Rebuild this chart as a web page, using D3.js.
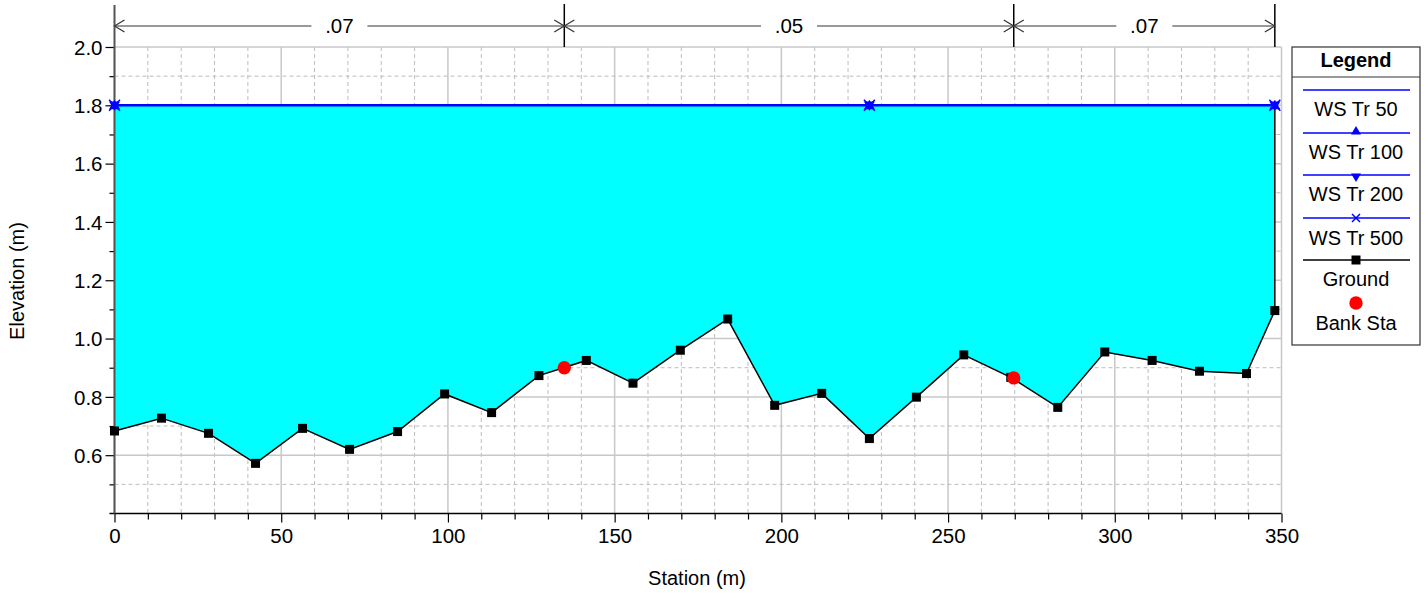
<!DOCTYPE html>
<html><head><meta charset="utf-8">
<script src="https://cdn.jsdelivr.net/npm/d3@7/dist/d3.min.js"></script>
<style>body{margin:0;background:#fff}svg{display:block}text{font-family:"Liberation Sans",Arial,sans-serif}</style>
</head><body><svg id="c" width="1428" height="593"></svg>
<script>
const groundStation = [0,14.1,28.2,42.3,56.4,70.5,84.9,99.0,113.1,127.3,141.5,155.5,169.7,183.9,198.0,212.1,226.4,240.5,254.7,268.8,282.9,297.0,311.2,325.4,339.5,348.0];
const groundElev = [0.683,0.727,0.675,0.572,0.692,0.620,0.681,0.810,0.746,0.873,0.925,0.847,0.960,1.067,0.771,0.812,0.657,0.799,0.944,0.867,0.764,0.954,0.925,0.888,0.880,1.096];
const bankStation = [134.9,269.7];
const bankElev = [0.900,0.865];
const wsNames = ["WS Tr 50","WS Tr 100","WS Tr 200","WS Tr 500"];
const wsElev = [1.8,1.8,1.8,1.8];
const wsMarkerStation = [0,226.4,348.0];
const nValues = [".07",".05",".07"];
const nBreaks = [0,134.9,269.7,348.0];
const xTicks = [0,50,100,150,200,250,300,350];
const yTicks = [0.6,0.8,1.0,1.2,1.4,1.6,1.8,2.0];

const svg = d3.select("#c");
const x = d3.scaleLinear().domain([0,350]).range([114.5,1281.5]);
const y = d3.scaleLinear().domain([0.4,2.0]).range([513.5,47]);

// grid
const g = svg.append("g");
d3.range(0,351,10).forEach(v=>{
  const major = v%50===0;
  g.append("line").attr("x1",x(v)).attr("x2",x(v)).attr("y1",y(2.0)).attr("y2",y(0.4))
   .attr("stroke",major?"#c8c8c8":"#bdbdbd").attr("stroke-width",major?1.5:1)
   .attr("stroke-dasharray",major?null:"4,3");
});
d3.range(5,21).map(d=>d/10).forEach(v=>{
  const major = Math.round(v*10)%2===0;
  g.append("line").attr("x1",x(0)).attr("x2",x(350)).attr("y1",y(v)).attr("y2",y(v))
   .attr("stroke",major?"#c8c8c8":"#bdbdbd").attr("stroke-width",major?1.5:1)
   .attr("stroke-dasharray",major?null:"4,3");
});

// water fill
const ground = groundStation.map((s,i)=>[s,groundElev[i]]);
const ws = wsElev[0];
const last = groundStation[groundStation.length-1];
const poly = [[0,ws],[last,ws]].concat(ground.slice().reverse());
svg.append("path").attr("d", d3.line().x(d=>x(d[0])).y(d=>y(d[1]))(poly)+"Z")
  .attr("fill","#00ffff").attr("stroke","none");
svg.append("line").attr("x1",x(last)).attr("x2",x(last)).attr("y1",y(ws)).attr("y2",y(groundElev[groundElev.length-1]))
  .attr("stroke","#000").attr("stroke-width",1.5);

// axes
const xAxis = d3.axisBottom(x).tickValues(d3.range(0,351,10)).tickSize(6).tickFormat(d=>xTicks.includes(d)?d:"");
const xa = svg.append("g").attr("transform",`translate(0,${y(0.4)})`).call(xAxis);
xa.select(".domain").attr("stroke","#000").attr("stroke-width",1.5).attr("d",`M${x(0)-5},0H${x(350)}`);
xa.selectAll(".tick line").attr("stroke","#000").attr("stroke-width",1.2).attr("y2",d=>d%50===0?9:6);
xa.selectAll(".tick text").attr("font-size",20.5).attr("fill","#000").attr("dy","0.75em").attr("y",14);

const yAxis = d3.axisLeft(y).tickValues(d3.range(4,21).map(d=>d/10)).tickSize(5).tickFormat(d=>yTicks.some(t=>Math.abs(t-d)<1e-9)?d3.format(".1f")(d):"");
const ya = svg.append("g").attr("transform",`translate(${x(0)},0)`).call(yAxis);
ya.select(".domain").remove();
ya.selectAll(".tick").filter(d=>d<0.45).remove();
ya.selectAll(".tick line").attr("stroke","#000").attr("stroke-width",1.2).attr("x2",d=>yTicks.some(t=>Math.abs(t-d)<1e-9)?-9:-5);
ya.selectAll(".tick text").attr("font-size",20.5).attr("fill","#000").attr("x",-12).attr("dy","0.35em");
svg.append("line").attr("x1",x(0)).attr("x2",x(0)).attr("y1",5).attr("y2",y(0.4))
  .attr("stroke","#555").attr("stroke-width",2);

// ground line & markers
svg.append("path").attr("d",d3.line().x(d=>x(d[0])).y(d=>y(d[1]))(ground))
  .attr("fill","none").attr("stroke","#000").attr("stroke-width",1.5);

// water surface line
svg.append("line").attr("x1",x(0)).attr("x2",x(last)).attr("y1",y(ws)).attr("y2",y(ws))
  .attr("stroke","#0000ff").attr("stroke-width",2.5);
function wsMarker(sel,cx,cy,type,s){
  if(type==="up") sel.append("path").attr("d",`M${cx},${cy-s}L${cx+s},${cy+s*0.7}L${cx-s},${cy+s*0.7}Z`).attr("fill","#0000ff");
  if(type==="down") sel.append("path").attr("d",`M${cx},${cy+s}L${cx+s},${cy-s*0.7}L${cx-s},${cy-s*0.7}Z`).attr("fill","#0000ff");
  if(type==="x") sel.append("path").attr("d",`M${cx-s},${cy-s}L${cx+s},${cy+s}M${cx-s},${cy+s}L${cx+s},${cy-s}`).attr("stroke","#0000ff").attr("stroke-width",1.5);
}
wsMarkerStation.forEach(s=>{
  ["up","down","x"].forEach(t=>wsMarker(svg,x(s),y(ws),t,5.5));
});

svg.selectAll("rect.gm").data(ground).join("rect").attr("class","gm")
  .attr("x",d=>x(d[0])-4.5).attr("y",d=>y(d[1])-4.5).attr("width",9).attr("height",9).attr("fill","#000");
svg.selectAll("circle.bk").data(bankStation).join("circle").attr("class","bk")
  .attr("cx",d=>x(d)).attr("cy",(d,i)=>y(bankElev[i])).attr("r",6.7).attr("fill","#ff0000");

// Manning's n annotation
const ay = 26;
nBreaks.forEach((b,i)=>{
  if(i>0) svg.append("line").attr("x1",x(b)).attr("x2",x(b)).attr("y1",4).attr("y2",y(2.0)).attr("stroke","#000").attr("stroke-width",1.5);
});
nValues.forEach((n,i)=>{
  const x1=x(nBreaks[i]), x2=x(nBreaks[i+1]), cx=(x1+x2)/2;
  svg.append("text").attr("x",cx).attr("y",ay).attr("dy","0.35em").attr("text-anchor","middle").attr("font-size",20.5).text(n);
  const hw = 28;
  svg.append("line").attr("x1",x1).attr("x2",cx-hw).attr("y1",ay).attr("y2",ay).attr("stroke","#777").attr("stroke-width",1.5);
  svg.append("line").attr("x1",cx+hw).attr("x2",x2).attr("y1",ay).attr("y2",ay).attr("stroke","#777").attr("stroke-width",1.5);
  svg.append("path").attr("d",`M${x1+10},${ay-6}L${x1},${ay}L${x1+10},${ay+6}`).attr("fill","none").attr("stroke","#333").attr("stroke-width",1.2);
  svg.append("path").attr("d",`M${x2-10},${ay-6}L${x2},${ay}L${x2-10},${ay+6}`).attr("fill","none").attr("stroke","#333").attr("stroke-width",1.2);
});

// axis titles
svg.append("text").attr("transform","translate(24,281) rotate(-90)").attr("text-anchor","middle").attr("font-size",20).text("Elevation (m)");
svg.append("text").attr("x",697).attr("y",585).attr("text-anchor","middle").attr("font-size",20).text("Station (m)");

// legend
const L = svg.append("g");
const lx0=1292, lx1=1420, lcx=(lx0+lx1)/2;
L.append("rect").attr("x",lx0).attr("y",47).attr("width",lx1-lx0).attr("height",298).attr("fill","#fff").attr("stroke","#333").attr("stroke-width",1.2);
L.append("line").attr("x1",lx0).attr("x2",lx1).attr("y1",77).attr("y2",77).attr("stroke","#333").attr("stroke-width",1.2);
L.append("text").attr("x",lcx).attr("y",67).attr("text-anchor","middle").attr("font-size",20).attr("font-weight","bold").text("Legend");
const lineY=[90,133,175,218,260];
const textY=[116,159,201,245,286,330];
const types=[null,"up","down","x"];
wsNames.forEach((nm,i)=>{
  L.append("line").attr("x1",1303).attr("x2",1410).attr("y1",lineY[i]).attr("y2",lineY[i]).attr("stroke","#0000ff").attr("stroke-width",1.5);
  if(types[i]) wsMarker(L,lcx,lineY[i]-(types[i]==="up"?2:types[i]==="down"?-2:0),types[i],types[i]==="x"?4:5);
  L.append("text").attr("x",lcx).attr("y",textY[i]).attr("text-anchor","middle").attr("font-size",20).text(nm);
});
L.append("line").attr("x1",1303).attr("x2",1410).attr("y1",lineY[4]).attr("y2",lineY[4]).attr("stroke","#000").attr("stroke-width",1.5);
L.append("rect").attr("x",lcx-4.5).attr("y",lineY[4]-4.5).attr("width",9).attr("height",9).attr("fill","#000");
L.append("text").attr("x",lcx).attr("y",textY[4]).attr("text-anchor","middle").attr("font-size",20).text("Ground");
L.append("circle").attr("cx",lcx).attr("cy",303).attr("r",6.7).attr("fill","#ff0000");
L.append("text").attr("x",lcx).attr("y",textY[5]).attr("text-anchor","middle").attr("font-size",20).text("Bank Sta");
</script></body></html>
